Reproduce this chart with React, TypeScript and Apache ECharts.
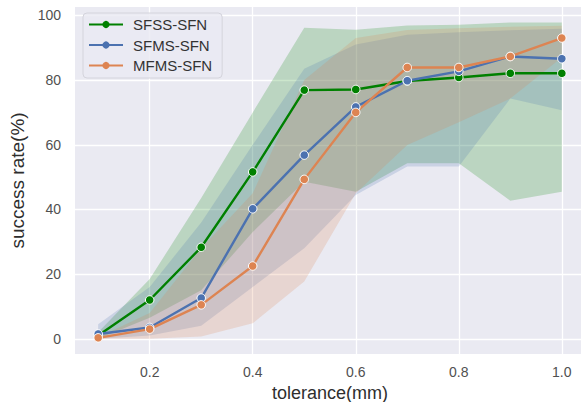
import React, { useEffect, useRef } from "react";
import * as echarts from "echarts";

const tolerance = [0.1, 0.2, 0.3, 0.4, 0.5, 0.6, 0.7, 0.8, 0.9, 1.0];

const sfssMean = [1, 12, 28.3, 51.6, 76.9, 77.1, 79.7, 80.8, 82.1, 82.1];
const sfssUpper = [2, 18.5, 43.5, 70, 96.2, 95.6, 96.9, 97.1, 97.8, 97.8];
const sfssLower = [0, 6.5, 15, 33, 48.6, 45.5, 54.3, 54.3, 42.7, 45.5];

const sfmsMean = [1.5, 3.5, 12.6, 40.2, 56.8, 71.7, 79.8, 82.7, 87.3, 86.6];
const sfmsUpper = [4.5, 16, 36, 60, 83.5, 91, 94, 94.8, 95.4, 95.9];
const sfmsLower = [0, 1, 4, 16, 28, 44.5, 53.3, 53.3, 74.3, 70.7];

const mfmsMean = [0.3, 3, 10.5, 22.5, 49.3, 70, 83.9, 83.9, 87.3, 93];
const mfmsUpper = [0.5, 8, 28, 45, 80, 93, 95.5, 96, 96.5, 96.8];
const mfmsLower = [0, 0, 0.7, 4.8, 17.7, 45, 59.9, 67, 74.3, 87];

const seriesNames = ["SFSS-SFN", "SFMS-SFN", "MFMS-SFN"];
const seriesColors = ["#008000", "#4C72B0", "#DD8452"];
const bandColors = ["rgba(0,128,0,0.2)", "rgba(76,114,176,0.2)", "rgba(221,132,82,0.2)"];

const FONT = "Liberation Sans, Arial, sans-serif";

function bandSeries(name: string, lower: number[], upper: number[], fill: string, z: number) {
  return {
    type: "custom",
    name: name + " band",
    silent: true,
    z,
    data: [[tolerance[0], lower[0]]],
    renderItem: (_params: any, api: any) => {
      const pts: number[][] = [];
      for (let i = 0; i < tolerance.length; i++) pts.push(api.coord([tolerance[i], upper[i]]));
      for (let i = tolerance.length - 1; i >= 0; i--) pts.push(api.coord([tolerance[i], lower[i]]));
      return {
        type: "polygon",
        shape: { points: pts },
        style: { fill, stroke: null, lineWidth: 0 },
      };
    },
  };
}

function lineSeries(name: string, mean: number[], color: string, z: number) {
  return {
    type: "line",
    name,
    z,
    data: tolerance.map((x, i) => [x, mean[i]]),
    symbol: "circle",
    symbolSize: 8.5,
    showSymbol: true,
    lineStyle: { width: 2.4, color },
    itemStyle: { color, borderColor: "#ffffff", borderWidth: 1 },
  };
}

export default function App() {
  const ref = useRef<HTMLDivElement>(null);
  useEffect(() => {
    if (!ref.current) return;
    const chart = echarts.init(ref.current, undefined, { renderer: "svg" });
    chart.setOption({
      animation: false,
      backgroundColor: "#ffffff",
      textStyle: { fontFamily: FONT },
      grid: {
        show: true,
        left: 75,
        top: 7,
        right: -4,
        bottom: 48,
        containLabel: false,
        outerBoundsMode: "none",
        backgroundColor: "#EAEAF2",
        borderWidth: 0,
      },
      legend: {
        orient: "vertical",
        left: 83,
        top: 13,
        padding: [4, 10, 5, 5],
        itemWidth: 34,
        itemHeight: 9,
        itemGap: 5.5,
        data: seriesNames,
        itemStyle: { borderWidth: 0 },
        backgroundColor: "rgba(234,234,242,0.8)",
        borderColor: "#d4d4dc",
        borderWidth: 1,
        borderRadius: 4,
        textStyle: { fontSize: 15, color: "#333333", fontFamily: FONT, padding: [0, 0, 0, 5] },
      },
      xAxis: {
        type: "value",
        min: 0.055,
        max: 1.045,
        name: "tolerance(mm)",
        nameLocation: "middle",
        nameGap: 18,
        nameTextStyle: { fontSize: 18, lineHeight: 19, color: "#2e2e2e", fontFamily: FONT },
        axisLine: { show: false },
        axisTick: { show: false },
        axisLabel: {
          fontSize: 14,
          color: "#505050",
          margin: 11,
          showMinLabel: false,
          showMaxLabel: false,
          formatter: (v: number) => v.toFixed(1),
        },
        splitLine: { show: true, showMinLine: false, showMaxLine: false, lineStyle: { color: "#ffffff", width: 1.3 } },
      },
      yAxis: {
        type: "value",
        min: -4.7,
        max: 102.6,
        name: "success rate(%)",
        nameLocation: "middle",
        nameGap: 42,
        nameTextStyle: { fontSize: 19, color: "#2e2e2e", fontFamily: FONT },
        axisLine: { show: false },
        axisTick: { show: false },
        axisLabel: {
          fontSize: 14,
          color: "#505050",
          margin: 14,
          showMinLabel: false,
          showMaxLabel: false,
        },
        splitLine: { show: true, showMinLine: false, showMaxLine: false, lineStyle: { color: "#ffffff", width: 1.3 } },
      },
      series: [
        bandSeries(seriesNames[0], sfssLower, sfssUpper, bandColors[0], 1),
        bandSeries(seriesNames[1], sfmsLower, sfmsUpper, bandColors[1], 1),
        bandSeries(seriesNames[2], mfmsLower, mfmsUpper, bandColors[2], 1),
        lineSeries(seriesNames[0], sfssMean, seriesColors[0], 3),
        lineSeries(seriesNames[1], sfmsMean, seriesColors[1], 3),
        lineSeries(seriesNames[2], mfmsMean, seriesColors[2], 3),
      ],
    });
    return () => chart.dispose();
  }, []);
  return (
    <div
      ref={ref}
      style={{ position: "absolute", left: 0, top: 0, width: 581, height: 402 }}
    />
  );
}
